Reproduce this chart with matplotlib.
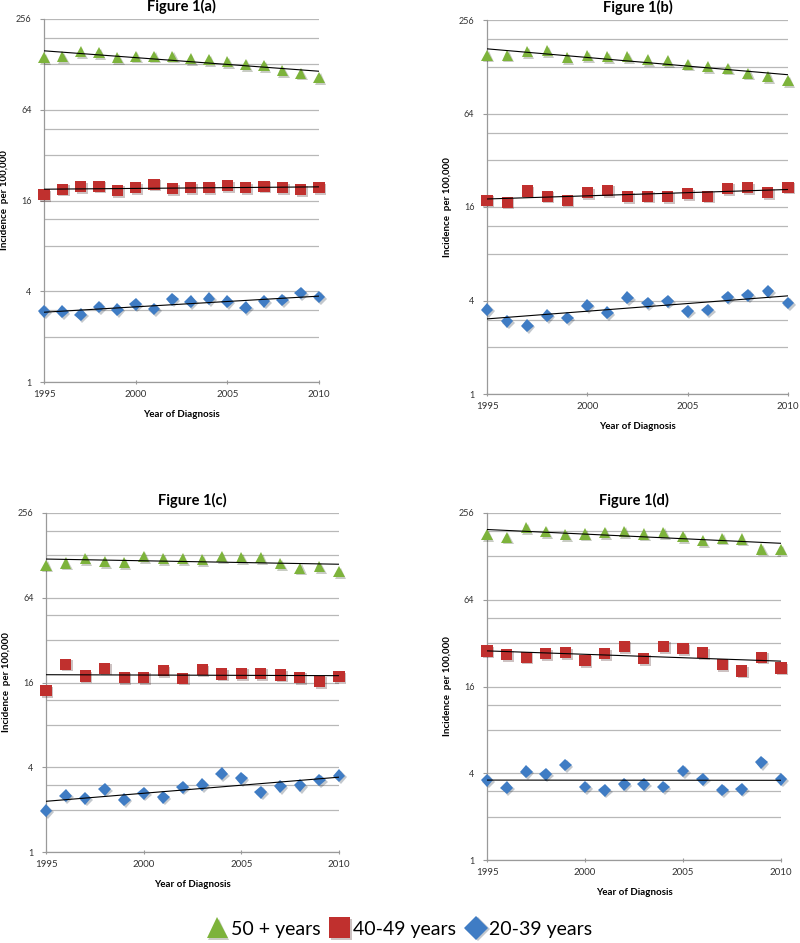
import numpy as np
import matplotlib
matplotlib.use("Agg")
import matplotlib.pyplot as plt
import matplotlib.patheffects as pe
from matplotlib.ticker import FixedLocator, NullFormatter

plt.rcParams['font.family'] = ['Lato', 'DejaVu Sans']

years = list(range(1995, 2011))

# Figure 1(a)
a_50 = [142, 144, 155, 153, 142, 145, 145, 145, 140, 138, 133, 128, 125, 116, 112, 105]
a_40 = [17.5, 19.0, 19.7, 19.9, 18.7, 19.4, 20.5, 19.1, 19.5, 19.5, 20.0, 19.5, 19.9, 19.4, 18.9, 19.4]
a_20 = [2.95, 2.92, 2.80, 3.15, 3.02, 3.28, 3.05, 3.54, 3.42, 3.58, 3.42, 3.12, 3.43, 3.50, 3.90, 3.67]

# Figure 1(b)
b_50 = [152, 152, 160, 162, 147, 151, 149, 149, 142, 140, 133, 128, 125.5, 116.5, 111, 104]
b_40 = [17.7, 17.2, 20.3, 18.8, 17.7, 19.8, 20.5, 18.6, 18.8, 18.6, 19.5, 18.8, 21.1, 21.3, 19.8, 21.5]
b_20 = [3.50, 2.94, 2.76, 3.20, 3.09, 3.71, 3.33, 4.16, 3.86, 3.96, 3.41, 3.47, 4.20, 4.33, 4.59, 3.86]

# Figure 1(c)
c_50 = [109, 113, 121.5, 115, 114, 126, 121.5, 121.5, 119.6, 125, 123.5, 123.5, 112, 104, 106, 98]
c_40 = [14.0, 21.6, 17.8, 20.2, 17.4, 17.4, 19.5, 17.2, 19.7, 18.4, 18.6, 18.6, 18.1, 17.4, 16.3, 17.6]
c_20 = [1.97, 2.51, 2.41, 2.79, 2.35, 2.62, 2.45, 2.89, 3.00, 3.59, 3.33, 2.66, 2.92, 2.97, 3.25, 3.49]

# Figure 1(d)
d_50 = [181, 174, 203, 191, 181, 183, 188, 191, 183, 188, 176, 165, 171, 169, 144, 142]
d_40 = [28.2, 26.6, 25.6, 27.0, 27.5, 24.3, 27.0, 30.4, 25.0, 30.4, 29.3, 27.5, 22.8, 20.5, 25.6, 21.5]
d_20 = [3.58, 3.18, 4.11, 3.94, 4.57, 3.21, 3.04, 3.35, 3.35, 3.21, 4.15, 3.63, 3.06, 3.09, 4.75, 3.63]

groups = ["50 + years", "40-49 years", "20-39 years"]
colors = ["#7DB33B", "#C0302E", "#3F7CC4"]
markers = ["^", "s", "D"]
msizes = [8, 8, 6.5]

y_major = [1, 4, 16, 64, 256]
y_grid = [1, 2, 3, 4, 8, 12, 16, 32, 48, 64, 128, 192, 256]

panels = [
    ("Figure 1(a)", [a_50, a_40, a_20], [44, 19, 319, 382]),
    ("Figure 1(b)", [b_50, b_40, b_20], [487, 20, 788, 394]),
    ("Figure 1(c)", [c_50, c_40, c_20], [46, 513, 339, 852]),
    ("Figure 1(d)", [d_50, d_40, d_20], [487, 513, 781, 860]),
]

W, H = 800, 943
fig = plt.figure(figsize=(W / 100, H / 100), dpi=100)
shadow = [pe.SimplePatchShadow(offset=(1.2, -1.2), alpha=0.25), pe.Normal()]

yrs = np.array(years)
for title, series, (x0, y0, x1, y1) in panels:
    ax = fig.add_axes([x0 / W, 1 - y1 / H, (x1 - x0) / W, (y1 - y0) / H])
    ax.set_yscale("log", base=2)
    ax.set_ylim(1, 256)
    ax.set_xlim(1995, 2010)

    for yv in y_grid:
        ax.axhline(yv, color="#B8B8B8", lw=0.9, zorder=0)

    for vals, col, mk, ms, lab in zip(series, colors, markers, msizes, groups):
        v = np.array(vals, dtype=float)
        ax.plot(yrs, v, linestyle="none", marker=mk, ms=ms, color=col,
                markeredgewidth=0, label=lab, zorder=3, clip_on=False,
                path_effects=shadow)
        # exponential trend line
        k, b = np.polyfit(yrs, np.log(v), 1)
        ax.plot(yrs, np.exp(k * yrs + b), color="black", lw=0.8, zorder=4)

    ax.yaxis.set_major_locator(FixedLocator(y_major))
    ax.yaxis.set_minor_locator(FixedLocator([]))
    ax.yaxis.set_minor_formatter(NullFormatter())
    ax.set_yticklabels([str(v) for v in y_major])
    ax.set_xticks([1995, 2000, 2005, 2010])

    for s in ["top", "right"]:
        ax.spines[s].set_visible(False)
    for s in ["left", "bottom"]:
        ax.spines[s].set_color("#9A9A9A")
        ax.spines[s].set_linewidth(0.9)
    ax.tick_params(axis="y", labelsize=6.5, length=3, color="#9A9A9A", pad=6, labelcolor="#333333")
    ax.tick_params(axis="x", labelsize=7, length=3, direction="inout", color="#9A9A9A", pad=4, labelcolor="#333333")

    ax.set_title(title, fontsize=10.5, fontweight="bold", pad=6)
    ax.set_xlabel("Year of Diagnosis", fontsize=7, fontweight="bold", labelpad=8)
    ax.set_ylabel("Incidence  per 100,000", fontsize=7, fontweight="bold")
    ax.yaxis.set_label_coords(-35 / (x1 - x0), 0.5)

handles, labels = ax.get_legend_handles_labels()
leg = fig.legend(handles, labels, loc="center", bbox_to_anchor=(0.5, 1 - 929 / H), ncol=3,
                 frameon=False, fontsize=14, markerscale=1.9, handletextpad=0.2,
                 columnspacing=0.5, handlelength=1.0)

fig.savefig("out.png", dpi=100)
